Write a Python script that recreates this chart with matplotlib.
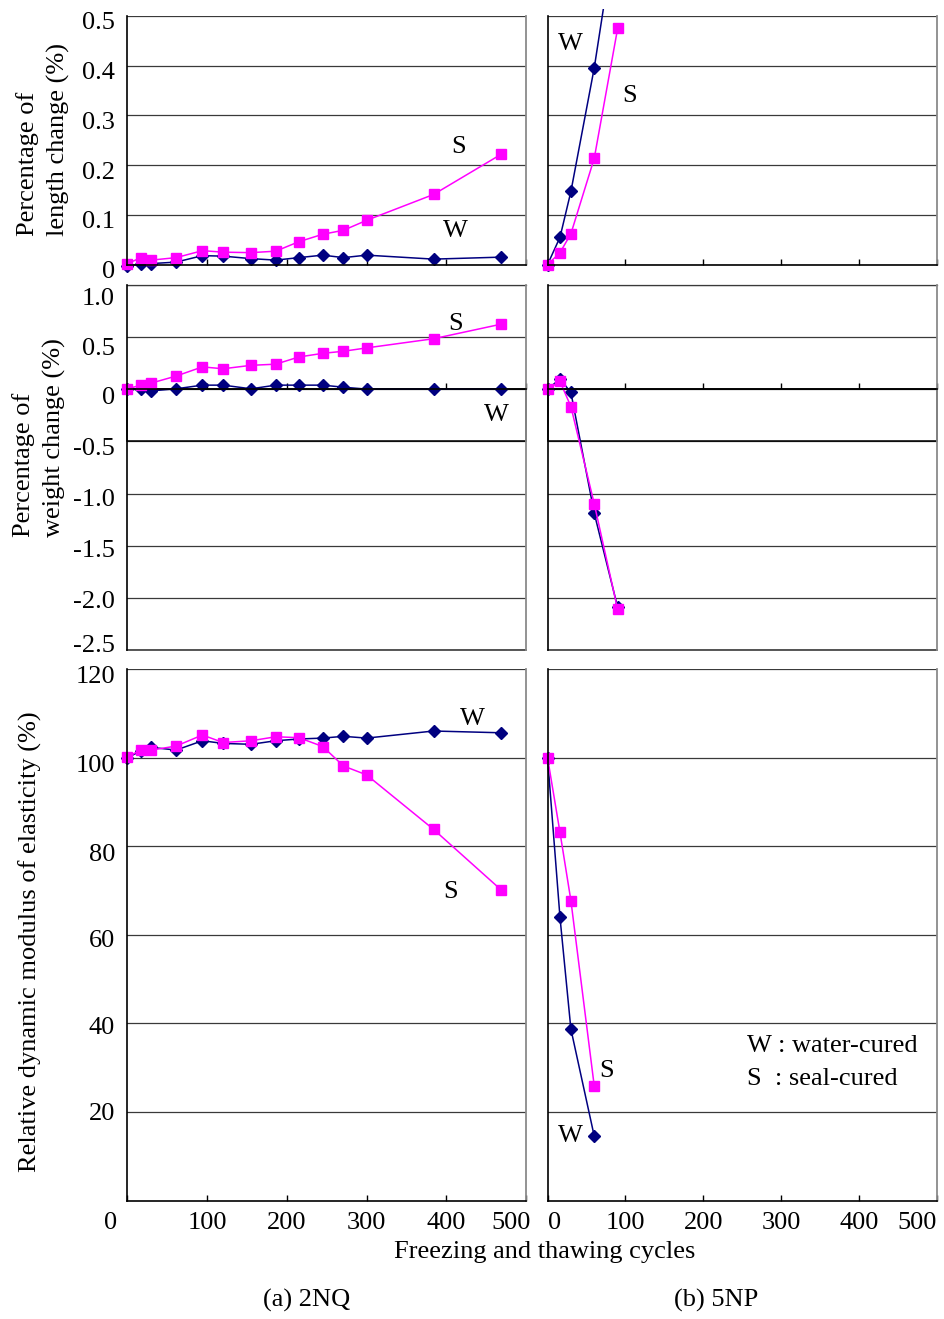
import matplotlib
matplotlib.use("Agg")
import matplotlib.pyplot as plt
from matplotlib.patches import Rectangle
from matplotlib.transforms import Bbox, TransformedBbox, ScaledTranslation, blended_transform_factory

plt.rcParams['font.family'] = ['Liberation Serif', 'DejaVu Serif']
plt.rcParams['font.size'] = 19

# freezing and thawing cycles
cycles_2nq = [0, 17, 30, 61, 94, 120, 155, 186, 215, 245, 271, 300, 384, 469]
cycles_5np = [0, 16, 30, 60, 90]
cycles_5np_mod = [0, 16, 30, 60]

# percentage of length change (%)
len_2nq_w = [-0.003, 0.002, 0.002, 0.005, 0.018, 0.017, 0.012, 0.009, 0.014, 0.019, 0.014, 0.019, 0.011, 0.015]
len_2nq_s = [0.002, 0.014, 0.009, 0.014, 0.028, 0.025, 0.024, 0.027, 0.046, 0.061, 0.069, 0.089, 0.141, 0.222]
len_5np_w = [0.0, 0.055, 0.147, 0.396, 0.70]
len_5np_s = [0.0, 0.024, 0.062, 0.214, 0.475]

# percentage of weight change (%)
wt_2nq_w = [0.0, 0.0, -0.015, 0.005, 0.04, 0.04, 0.005, 0.04, 0.04, 0.04, 0.02, 0.002, 0.002, 0.002]
wt_2nq_s = [0.005, 0.04, 0.06, 0.127, 0.215, 0.197, 0.23, 0.241, 0.31, 0.345, 0.365, 0.397, 0.485, 0.625]
wt_5np_w = [0.0, 0.10, -0.03, -1.19, -2.09]
wt_5np_s = [0.0, 0.075, -0.165, -1.10, -2.11]

# relative dynamic modulus of elasticity (%)
mod_2nq_w = [100.0, 101.5, 102.3, 101.7, 103.8, 103.2, 103.0, 103.8, 104.2, 104.4, 104.8, 104.4, 106.0, 105.6]
mod_2nq_s = [100.1, 101.8, 101.7, 102.6, 105.1, 103.4, 103.8, 104.7, 104.5, 102.5, 98.1, 96.1, 83.8, 70.1]
mod_5np_w = [100.0, 63.9, 38.7, 14.5]
mod_5np_s = [100.0, 83.1, 67.7, 25.8]

x_ticks = [0, 100, 200, 300, 400, 500]
len_ticks = [0, 0.1, 0.2, 0.3, 0.4, 0.5]
len_labels = ['0', '0.1', '0.2', '0.3', '0.4', '0.5']
wt_ticks = [-2.5, -2.0, -1.5, -1.0, -0.5, 0, 0.5, 1.0]
wt_labels = ['-2.5', '-2.0', '-1.5', '-1.0', '-0.5', '0', '0.5', '1.0']
mod_ticks = [20, 40, 60, 80, 100, 120]

W_COL = '#000080'
S_COL = '#ff00ff'
GRID_COL = '#3a3a3a'

fig = plt.figure(figsize=(9.45, 13.19), dpi=100)

left_x, left_w = 0.1349, 0.4217
right_x, right_w = 0.5794, 0.4122
rows = [(0.7994, 0.1885), (0.5072, 0.2767), (0.0898, 0.4030)]

axes = []
for bottom, height in rows:
    a1 = fig.add_axes([left_x, bottom, left_w, height])
    a2 = fig.add_axes([right_x, bottom, right_w, height])
    axes.append((a1, a2))


def shift(lab, dx, dy):
    off = ScaledTranslation(dx / 100, dy / 100, fig.dpi_scale_trans)
    lab.set_transform(lab.get_transform() + off)


def style(ax, yticks, ylim, ylabels=None, xlabels=False, zero_axis=False, label_shift=None):
    ax.set_xlim(0, 500)
    ax.set_ylim(*ylim)
    ax.set_xticks(x_ticks)
    ax.set_yticks(yticks)
    ax.grid(axis='y', color=GRID_COL, lw=0.9)
    ax.set_axisbelow(True)
    ax.spines['top'].set_visible(False)
    ax.spines['right'].set_color('#8a8a8a')
    ax.spines['right'].set_linewidth(1.3)
    ax.spines['left'].set_linewidth(1.2)
    ax.spines['bottom'].set_linewidth(1.2)
    if zero_axis:
        ax.spines['bottom'].set_position(('data', 0))
        ax.axhline(ylim[0], color=GRID_COL, lw=1.2, clip_on=False)
        ax.axhline(ylim[1], color=GRID_COL, lw=0.9, clip_on=False)
    ax.tick_params(axis='x', direction='in', length=4, width=1, pad=8)
    ax.tick_params(axis='y', length=0, pad=9)
    if ylabels is None:
        ax.set_yticklabels([])
    else:
        ax.set_yticklabels(ylabels)
        for i, lab in enumerate(ax.get_yticklabels()):
            shift(lab, 0, label_shift[i] if label_shift else -5)
    if xlabels:
        labs = ax.set_xticklabels([str(t) for t in x_ticks])
        labs[-1].set_ha('right')
        if ylabels is not None:
            labs[0].set_ha('right')
            shift(labs[0], -10, 0)
            shift(labs[-1], 5, 0)
        else:
            labs[0].set_ha('left')
    else:
        ax.set_xticklabels([])


def series(ax, x, y, col, mk, ms):
    line, = ax.plot(x, y, color=col, lw=1.1, marker=mk, ms=ms, mec=col, mfc=col)
    line.set_clip_box(TransformedBbox(Bbox([[-0.05, -0.05], [1.05, 1.03]]), ax.transAxes))
    return line


def draw_pair(ax, x, w, s):
    series(ax, x, w, W_COL, 'D', 6)
    series(ax, x, s, S_COL, 's', 7.5)


# length change
ax1, ax2 = axes[0]
draw_pair(ax1, cycles_2nq, len_2nq_w, len_2nq_s)
draw_pair(ax2, cycles_5np, len_5np_w, len_5np_s)
style(ax1, len_ticks, (0, 0.5), len_labels)
style(ax2, len_ticks, (0, 0.5))
ax1.text(416, 0.236, 'S', ha='center', va='center')
ax1.text(412, 0.067, 'W', ha='center', va='center')
ax2.text(29, 0.444, 'W', ha='center', va='center')
ax2.text(105, 0.34, 'S', ha='center', va='center')

# weight change
ax3, ax4 = axes[1]
draw_pair(ax3, cycles_2nq, wt_2nq_w, wt_2nq_s)
draw_pair(ax4, cycles_5np, wt_5np_w, wt_5np_s)
style(ax3, wt_ticks, (-2.5, 1.0), wt_labels, zero_axis=True,
      label_shift=[7, -2, -3, -4, -5, -6, -9, -11])
style(ax4, wt_ticks, (-2.5, 1.0), zero_axis=True)
for ax in (ax3, ax4):
    tr = blended_transform_factory(ax.transAxes, ax.transData)
    ax.add_patch(Rectangle((0, -0.5), 1, 0.5, transform=tr, fill=False,
                           ec='black', lw=1.1, clip_on=False, zorder=1))
ax3.text(412, 0.63, 'S', ha='center', va='center')
ax3.text(463, -0.25, 'W', ha='center', va='center')

# relative dynamic modulus
ax5, ax6 = axes[2]
draw_pair(ax5, cycles_2nq, mod_2nq_w, mod_2nq_s)
draw_pair(ax6, cycles_5np_mod, mod_5np_w, mod_5np_s)
style(ax5, mod_ticks, (0, 120), [str(t) for t in mod_ticks], xlabels=True,
      label_shift=[0, -2, -4, -6, -6, -6])
style(ax6, mod_ticks, (0, 120), xlabels=True)
ax5.text(433, 108.6, 'W', ha='center', va='center')
ax5.text(405, 69.7, 'S', ha='center', va='center')
ax6.text(76, 29.2, 'S', ha='center', va='center')
ax6.text(29, 14.6, 'W', ha='center', va='center')
ax6.text(256, 34.8, 'W : water-cured', ha='left', va='center')
ax6.text(256, 27.5, 'S  : seal-cured', ha='left', va='center')

# axis titles
fig.text(43 / 945, 1 - 236 / 1319, 'Percentage of\nlength change (%)', rotation=90,
         ha='center', va='bottom', multialignment='left', linespacing=1.4)
fig.text(39 / 945, 1 - 537 / 1319, 'Percentage of\nweight change (%)', rotation=90,
         ha='center', va='bottom', multialignment='left', linespacing=1.4)
fig.text(30 / 945, 1 - 942 / 1319, 'Relative dynamic modulus of elasticity (%)',
         rotation=90, ha='center', va='center')
fig.text(545 / 945, 1 - 1252 / 1319, 'Freezing and thawing cycles', ha='center', va='center')
fig.text(307 / 945, 1 - 1300 / 1319, '(a) 2NQ', ha='center', va='center')
fig.text(716 / 945, 1 - 1300 / 1319, '(b) 5NP', ha='center', va='center')

fig.savefig('out.png', dpi=100)
